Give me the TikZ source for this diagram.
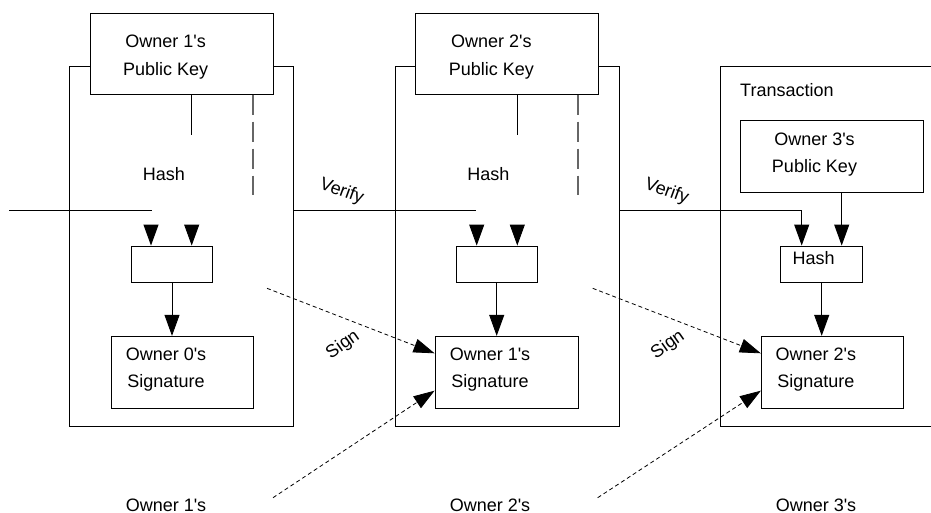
\documentclass[tikz,border=0pt]{standalone}
\usepackage{fontspec}
\setmainfont{Liberation Sans}[Ligatures=TeXOff]
\usetikzlibrary{arrows.meta}
\begin{document}
\begin{tikzpicture}[x=1pt,y=-1pt,
  box/.style={draw, line width=0.9pt, fill=white, inner sep=0pt},
  txt/.style={inner sep=0pt, font=\fontsize{18}{27.6}\selectfont, align=center},
  line/.style={line width=0.9pt},
  arr/.style={line width=0.9pt, -{Triangle[length=21pt,width=15pt]}},
  dsh/.style={line width=0.8pt, dash pattern=on 4pt off 3pt, -{Triangle[length=21pt,width=14pt]}},
  vdsh/.style={line width=1.2pt, draw=black!60, dash pattern=on 20pt off 7pt},
]
\useasboundingbox (0,0) rectangle (931,513);
\clip (0,0) rectangle (931,513);

% outer transaction boxes
\node[box, minimum width=223.6pt, minimum height=359.7pt] (out1) at (181.5,246.15) {};
\node[box, minimum width=223.3pt, minimum height=359.7pt] (out2) at (507.35,246.15) {};
\node[box, minimum width=240pt, minimum height=359.7pt] (out3) at (840,246.15) {};

% public key boxes
\node[box, minimum width=182.6pt, minimum height=81pt] (pk1) at (182,53.8) {};
\node[box, minimum width=183.3pt, minimum height=81pt] (pk2) at (506.65,53.8) {};
\node[box, minimum width=183pt, minimum height=72pt] (pk3) at (831.8,156.3) {};
\node[txt] (pk1t) at (165.7,57.2) {Owner 1's\\Public Key};
\node[txt] (pk2t) at (491.4,57.2) {Owner 2's\\Public Key};
\node[txt] (pk3t) at (814.5,154.6) {Owner 3's\\Public Key};

% hash boxes
\node[box, minimum width=81.3pt, minimum height=36.3pt] (hb1) at (171.65,264.15) {};
\node[box, minimum width=81.4pt, minimum height=36.3pt] (hb2) at (497,264.15) {};
\node[box, minimum width=81.6pt, minimum height=36.3pt] (hb3) at (821.5,264.15) {};
\node[txt, anchor=base] (hb3t) at (813.7,264.8) {Hash};

% signature boxes
\node[box, minimum width=142.7pt, minimum height=72pt] (sig1) at (182.35,372.3) {};
\node[box, minimum width=143.3pt, minimum height=72pt] (sig2) at (506.65,372.3) {};
\node[box, minimum width=142.4pt, minimum height=72pt] (sig3) at (832.5,372.3) {};
\node[txt] (sig1t) at (166,369.7) {Owner 0's\\Signature};
\node[txt] (sig2t) at (490,369.7) {Owner 1's\\Signature};
\node[txt] (sig3t) at (815.8,369.7) {Owner 2's\\Signature};

% labels
\node[txt, anchor=base] (hash1) at (164,180.5) {Hash};
\node[txt, anchor=base] (hash2) at (488.3,180.5) {Hash};
\node[txt, anchor=base west] (trans) at (740,96.5) {Transaction};
\node[txt, anchor=base] (own1) at (166,511.5) {Owner 1's};
\node[txt, anchor=base] (own2) at (490,511.5) {Owner 2's};
\node[txt, anchor=base] (own3) at (816,511.5) {Owner 3's};
\node[txt, rotate=-20] (ver1) at (341.7,191.7) {Verify};
\node[txt, rotate=-20] (ver2) at (666.7,191.7) {Verify};
\node[txt, rotate=35] (sign1) at (343,345) {Sign};
\node[txt, rotate=35] (sign2) at (668,345) {Sign};

% pubkey stubs
\coordinate (a1) at (191.7,135);
\coordinate (a2) at (517,135);
\draw[line] (a1 |- pk1.south) -- (a1);
\draw[line] (a2 |- pk2.south) -- (a2);
\coordinate (d1) at (253,195);
\coordinate (d2) at (578,195);
\draw[vdsh] (d1 |- pk1.south) -- (d1);
\draw[vdsh] (d2 |- pk2.south) -- (d2);

% verify lines
\coordinate (vin) at (9,210.3);
\coordinate (v1end) at (151.7,210.3);
\coordinate (v2end) at (475.7,210.3);
\coordinate (v3c) at (801.7,210.3);
\draw[line] (vin) -- (v1end);
\draw[line] (out1.east |- v2end) -- (v2end);
\draw[arr] (out2.east |- v3c) -- (v3c) -- (v3c |- hb3.north);

% arrowheads into hash boxes
\coordinate (t1a) at (151,225);
\coordinate (t1b) at (191.7,225);
\coordinate (t2a) at (476.7,225);
\coordinate (t2b) at (517.3,225);
\draw[arr] (t1a) -- (t1a |- hb1.north);
\draw[arr] (t1b) -- (t1b |- hb1.north);
\draw[arr] (t2a) -- (t2a |- hb2.north);
\draw[arr] (t2b) -- (t2b |- hb2.north);
\coordinate (p3x) at (841.7,200);
\draw[arr] (p3x |- pk3.south) -- (p3x |- hb3.north);

% hash to signature
\coordinate (s1x) at (172,300);
\coordinate (s2x) at (496.7,300);
\coordinate (s3x) at (821.7,300);
\draw[arr] (s1x |- hb1.south) -- (s1x |- sig1.north);
\draw[arr] (s2x |- hb2.south) -- (s2x |- sig2.north);
\draw[arr] (s3x |- hb3.south) -- (s3x |- sig3.north);

% sign and private key dashed arrows
\coordinate (sg1) at (267,288.3);
\coordinate (sg2) at (592.7,288.3);
\coordinate (pv1) at (273,497.7);
\coordinate (pv2) at (597.7,497.7);
\draw[dsh] (sg1) -- ([yshift=19pt]sig2.west);
\draw[dsh] (sg2) -- ([yshift=19pt]sig3.west);
\draw[dsh] (pv1) -- ([yshift=-18.4pt]sig2.west);
\draw[dsh] (pv2) -- ([yshift=-18.4pt]sig3.west);
\end{tikzpicture}
\end{document}
